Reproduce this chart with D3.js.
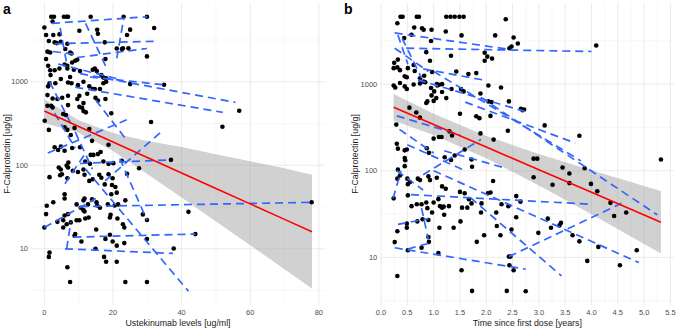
<!DOCTYPE html>
<html>
<head>
<meta charset="utf-8">
<script src="https://cdn.jsdelivr.net/npm/d3@7"></script>
<style>
  body { margin: 0; background: #fff; }
  text { font-family: "Liberation Sans", Arial, Helvetica, sans-serif; }
</style>
</head>
<body>
<div id="chart"></div>
<script>
// ---- panel a: ustekinumab level [ug/ml] vs F-calprotectin [ug/g]
const pointsA = [
  [2.0,6000],[2.8,6000],[5.7,6000],[6.5,6000],[6.9,6000],[13.5,6000],[0,4460],[2.4,5250],[10.2,4080],[15.4,4190],
  [15.6,3760],[0.5,3620],[2.6,3620],[4.4,3690],[1.3,3070],[3.0,2960],[3.6,2900],[4.8,3010],[6.7,2850],[6.1,2460],
  [7.5,2240],[17.6,2960],[21.1,2500],[22.6,2460],[0.9,2290],[1.7,2240],[7.9,2180],[9.0,1780],[9.6,1830],[5.9,1610],
  [6.7,1550],[8.1,1700],[0.5,1870],[1.1,1550],[1.7,1370],[3.0,1370],[4.4,1440],[6.7,1440],[8.6,1390],[10.4,1340],
  [14.1,1390],[14.7,1440],[15.3,1340],[16.6,1200],[17.2,1120],[18.0,1100],[7.5,1140],[1.8,1200],[1.5,960],[1.1,880],
  [3.2,960],[4.8,1080],[6.9,980],[7.9,960],[9.8,910],[11.4,1000],[13.1,880],[14.1,817],[14.7,817],[17.2,960],
  [18.0,1000],[16.2,817],[0.9,692],[2.4,631],[3.8,620],[5.2,643],[6.9,680],[9.6,620],[10.2,680],[12.5,718],
  [14.9,643],[15.6,597],[11.4,555],[17.8,620],[2.0,515],[6.9,525],[11.0,488],
  [23.1,6000],[29.9,6000],[32.0,4400],[25.0,4200],[24.1,3620],[24.5,2510],[22.9,2510],[29.9,2010],[17.8,1870],
  [34.9,921],[25.0,937],[56.8,450],[51.9,289],[31.1,329],[36.9,116],[24.1,79],[27.6,92],[77.9,36],[42.0,27.7],
  [28.7,25.8],[29.9,22.1],[44.0,15],[29.9,13.1],[37.7,10.1],[23.6,4],[29.9,4],[23.3,11.7],
  [0.9,516],[2.4,493],[10.2,500],[11.4,445],[12.1,430],[5.5,410],[6.3,400],[0.1,341],[1.3,265],[5.9,284],
  [6.7,265],[7.7,230],[8.8,280],[13.1,271],[19.5,420],[3.0,164],[4.0,152],[4.8,167],[5.9,149],[8.1,161],
  [10.4,164],[13.5,133],[14.3,133],[15.6,136],[16.4,144],[13.9,196],[18.7,176],[22.6,113],[4.2,94],[4.8,89],
  [4.6,76],[5.1,78],[6.9,94],[6.7,70],[8.3,86],[9.8,83],[11.4,89],[11.7,77],[13.1,65],[14.1,68],
  [16.0,77],[16.6,71],[19.7,58],[20.7,55],[17.6,59],[19.5,45],[21.1,47],[5.9,45],[5.9,40],[9.4,34],
  [11.4,38],[11.7,40],[12.7,34],[13.9,39],[15.2,36],[18.5,34],[21.5,34],[23.6,38],[0.5,26],
  [0.7,32.7],[10.6,31],[11.4,29],[11.7,28],[15.4,33],[16.2,31],[20.5,33],[6.9,26],[5.9,25],[5.5,22],
  [6.5,19.7],[7.7,20.7],[9.4,22],[10.2,22],[11.9,23],[12.9,23.7],[0,18],[5.5,18],[19.3,25.5],[19.1,23.7],
  [21.3,23],[23.3,18],[22.9,19.7],[15.1,17],[9.0,15],[8.8,14.3],[19.1,14.7],[17.8,13.1],[10.8,12.2],[19.9,12.2],
  [21.1,10.9],[14.9,10],[1.5,9],[1.3,8],[17.4,8],[18.0,7],[21.1,7],[6.7,6],[7.5,4],
  [1.5,72],[3.8,21],[2.6,36],[6.5,99],[7.0,108],[11.9,111],[13.3,104],[17.2,111],[18.7,104],[20.1,106],
  [18.7,78],[19.9,70]
];
// per-patient trend lines: [x1, y1, x2, y2]
const patientLinesA = [
  [2.2,5000,30,6000],[3.0,2850,32,3050],[9.5,1950,29.9,2500],[10.4,1250,55.7,566],[9,860,52,430],
  [13.3,1140,34.7,920],[21.1,1900,23.1,5600],[4.6,4400,6.7,1500],[1.5,1000,8,300],[4,1630,21.5,1080],
  [17.7,65,34.7,265],[10.4,105,36.9,116],[10.4,32,77.9,36],[8.5,13.8,44,15],[6,10,37.5,8.8],
  [12,90,42,3.1],[22,120,29.9,22],[0,18,15,40],[1,140,24,350],[6,60,12,140],
  [9,250,14,90],[12,5000,18,1500],[6.5,10,7.7,21],[2.5,2300,10,2100],[15,600,24,200],[3,420,9,160]
];
const fitXA = [0, 10, 20, 30, 40, 50, 60, 70, 78];
const fitA  = [446, 291, 190, 124, 81, 52.8, 34.5, 22.5, 16];
const hiA   = [618, 345, 244, 195, 165, 135, 112, 92, 77];
const loA   = [321, 245, 148, 78.5, 41, 21.2, 11.0, 5.7, 3.34];
const xTicksA = [0, 20, 40, 60, 80];
const xMinorA = [10, 30, 50, 70];

// ---- panel b: time since first dose [years] vs F-calprotectin [ug/g]
const pointsB = [
  [0.37,6000],[0.41,6000],[0.31,5050],[0.68,6000],[0.72,6000],[0.63,4500],[0.78,4420],[0.81,4240],[0.96,4240],[1.24,6000],
  [1.32,6000],[1.40,6000],[1.49,6000],[1.57,6000],[2.37,5600],[1.23,4050],[1.53,3650],[0.44,3400],[0.58,3710],[0.95,3150],
  [2.17,3650],[2.52,3450],[2.60,2950],[2.44,2600],[2.48,2720],[0.86,2340],[1.33,2130],[1.97,2300],[2.02,2080],[1.97,1860],
  [2.11,1970],[0.25,1760],[0.32,1920],[0.24,1530],[0.31,1560],[0.36,1450],[0.51,1530],[0.62,1660],[0.64,1420],[0.93,1860],
  [0.97,1380],[1.43,1400],[1.66,1310],[1.81,1340],[0.45,1230],[0.49,1200],[0.74,1170],[0.82,1250],[0.36,1030],[0.24,966],
  [0.27,915],[0.45,941],[0.49,880],[0.62,990],[0.74,1020],[0.81,1070],[0.84,1050],[1.07,966],[1.10,985],[1.16,1000],
  [0.95,901],[1.06,1000],[1.01,824],[1.16,810],[0.96,741],[1.05,690],[0.88,632],[0.86,605],[1.00,640],[1.24,690],
  [1.34,880],[1.52,880],[1.57,824],[1.89,780],[2.04,966],[2.28,915],[2.04,632],[2.10,620],[2.43,632],
  [2.66,520],[2.69,500],[2.72,510],[3.11,334],[3.77,254],[5.32,135],[2.90,138],[2.97,138],[2.90,84],[3.26,69],
  [3.45,109],[3.58,93],[3.58,72],[3.87,107],[3.99,70.5],[4.11,58],[4.36,42.6],[4.66,33],[4.43,30],[3.17,28],
  [2.99,19.2],[3.23,22],[3.39,23.4],[3.42,25],[3.64,18],[3.77,15.3],[4.13,13.2],[4.86,12.1],[3.92,9.1],[4.54,8.1],
  [2.75,4.06],[4.09,2790],
  [0.54,535],[0.67,470],[0.74,410],[1.50,455],[1.81,425],[1.87,405],[2.08,430],[0.29,341],[1.00,235],[1.10,245],
  [1.15,245],[1.35,255],[1.30,285],[1.59,176],[1.89,270],[2.14,229],[2.41,290],[0.30,205],[0.32,180],[0.45,172],
  [0.49,176],[0.87,182],[0.91,161],[1.21,143],[1.33,133],[1.40,150],[1.72,135],[1.73,111],[0.45,140],[0.46,132],
  [0.32,103],[0.36,88],[0.31,81],[0.45,113],[0.50,81],[0.51,70],[0.55,74],[0.70,81],[0.74,78],[0.90,86],
  [0.93,78],[1.06,83],[1.16,66],[1.23,62],[1.09,47],[1.00,43],[0.68,41],[0.51,52],[0.77,41],[0.86,43],
  [1.12,39],[1.19,38.5],[1.29,39],[1.50,57],[1.59,55],[1.67,47],[1.72,42],[1.91,42],[2.03,55],[2.08,56],
  [2.29,41],[2.42,39],[2.57,51],[2.65,44],
  [0.97,33],[1.20,31],[1.51,26],[1.38,22],[1.11,22],[0.90,27],[0.79,27.5],[0.69,26],[0.49,24.5],[0.49,22],
  [0.31,20],[0.26,15],[0.90,17.2],[0.91,15.1],[0.77,12.9],[0.51,12.1],[1.09,11.2],[1.53,7.1],[1.73,4.1],[2.39,4.1],
  [2.44,8.1],[2.52,7.1],[2.46,10.2],[2.43,10.2],[2.19,33],[2.57,29],[2.48,21],[2.27,18],[2.20,23],[1.96,18],
  [1.82,15.1],[1.64,37.5],[1.54,37.5],[1.90,33],[0.31,6.1],[1.16,37.5],[0.58,39],[0.88,37],[2.13,76],[0.24,48]
];
const patientLinesB = [
  [0.48,2600,4.0,2380],[0.26,3900,2.48,2500],[1.0,1400,3.8,130],[1.9,700,5.25,31],[0.57,53,4.0,41],
  [1.0,100,4.9,8.7],[1.7,49,3.43,6.1],[2.43,10.2,4.57,42],[0.26,12.9,2.75,7.3],[0.7,1120,2.73,484],
  [1.6,620,3.69,209],[0.32,3700,0.51,1700],[0.4,3400,0.77,1170],[0.26,2600,0.9,1400],[0.3,430,1.5,260],
  [0.35,300,1.0,160],[0.5,200,1.6,100],[0.8,90,1.9,230],[0.3,100,0.8,60],[1.2,170,2.3,110],
  [0.32,24,0.9,28],[0.77,37,0.9,16],[0.51,12.5,0.9,14.5],[0.23,48,0.38,100],[0.8,1500,2.0,1100]
];
const fitXB = [0.24, 1, 2, 3, 4, 5.32];
const fitB  = [540, 342, 187.5, 102.8, 56.4, 25.5];
const hiB   = [771, 454, 252, 156, 101, 58.5];
const loB   = [378, 258, 139, 67.6, 31.4, 11.1];
const xTicksB = d3.range(0, 5.51, 0.5);
const xMinorB = d3.range(0.25, 5.5, 0.5);

const yTicks = [10, 100, 1000];
const yMinor = [3.162, 31.62, 316.2, 3162];

const svg = d3.select("#chart").append("svg")
  .attr("width", 676)
  .attr("height", 329);

function drawPanel(o) {
  const top = 3, bottom = 305, w = 294;

  // ggplot-style 5% expansion (log space for y)
  const xs = o.points.map(d => d[0]);
  const xr = d3.extent(xs), xpad = (xr[1] - xr[0]) * 0.05;
  const allY = o.points.map(d => d[1])
    .concat(o.lines.flatMap(d => [d[1], d[3]]), o.lo, o.hi);
  const ly = d3.extent(allY).map(Math.log10), ypad = (ly[1] - ly[0]) * 0.05;

  const x = d3.scaleLinear().domain([xr[0] - xpad, xr[1] + xpad]).range([o.left, o.left + w]);
  const y = d3.scaleLog().domain([10 ** (ly[0] - ypad), 10 ** (ly[1] + ypad)]).range([bottom, top]);

  const g = svg.append("g");

  // grid
  g.selectAll(".gxm").data(o.xMinor).join("line")
    .attr("x1", d => x(d)).attr("x2", d => x(d)).attr("y1", top).attr("y2", bottom)
    .attr("stroke", "#efefef").attr("stroke-width", 0.5);
  g.selectAll(".gym").data(yMinor).join("line")
    .attr("x1", o.left).attr("x2", o.left + w).attr("y1", d => y(d)).attr("y2", d => y(d))
    .attr("stroke", "#efefef").attr("stroke-width", 0.5);
  g.selectAll(".gx").data(o.xTicks).join("line")
    .attr("x1", d => x(d)).attr("x2", d => x(d)).attr("y1", top).attr("y2", bottom)
    .attr("stroke", "#e8e8e8").attr("stroke-width", 0.9);
  g.selectAll(".gy").data(yTicks).join("line")
    .attr("x1", o.left).attr("x2", o.left + w).attr("y1", d => y(d)).attr("y2", d => y(d))
    .attr("stroke", "#e8e8e8").attr("stroke-width", 0.9);

  // tick labels
  g.selectAll(".tx").data(o.xTicks).join("text")
    .attr("x", d => x(d)).attr("y", 315)
    .attr("text-anchor", "middle")
    .style("font-size", "7.5px").style("fill", "#4d4d4d")
    .text(o.xFormat);
  g.selectAll(".ty").data(yTicks).join("text")
    .attr("x", o.left - 3).attr("y", d => y(d)).attr("dy", "0.35em")
    .attr("text-anchor", "end")
    .style("font-size", "7.5px").style("fill", "#4d4d4d")
    .text(d => d);

  // confidence band
  const band = d3.area()
    .x((d, i) => x(o.fitX[i]))
    .y0((d, i) => y(o.lo[i]))
    .y1((d, i) => y(o.hi[i]));
  g.append("path").datum(o.fitX)
    .attr("d", band)
    .attr("fill", "#999999").attr("fill-opacity", 0.45);

  // points
  g.selectAll(".pt").data(o.points).join("circle")
    .attr("cx", d => x(d[0])).attr("cy", d => y(d[1]))
    .attr("r", 2.3).attr("fill", "#000");

  // patient trend lines
  g.selectAll(".pl").data(o.lines).join("line")
    .attr("x1", d => x(d[0])).attr("y1", d => y(d[1]))
    .attr("x2", d => x(d[2])).attr("y2", d => y(d[3]))
    .attr("stroke", "#3366FF").attr("stroke-width", 1.7)
    .attr("stroke-dasharray", "8,5");

  // overall fit
  const fitLine = d3.line().x((d, i) => x(o.fitX[i])).y(d => y(d));
  g.append("path").datum(o.fit)
    .attr("d", fitLine)
    .attr("fill", "none").attr("stroke", "#ff0000").attr("stroke-width", 1.6);

  // axis titles
  g.append("text")
    .attr("x", o.left + w / 2).attr("y", 326)
    .attr("text-anchor", "middle")
    .style("font-size", "8.8px").style("fill", "#1a1a1a")
    .text(o.xTitle);
  g.append("text")
    .attr("transform", `translate(${o.yTitleX},${(top + bottom) / 2})rotate(-90)`)
    .attr("text-anchor", "middle")
    .style("font-size", "8.8px").style("fill", "#1a1a1a")
    .text("F-Calprotectin [ug/g]");

  // panel tag
  g.append("text")
    .attr("x", o.tagX).attr("y", 14)
    .style("font-size", "14px").style("font-weight", "bold").style("fill", "#000")
    .text(o.tag);
}

drawPanel({
  left: 31, points: pointsA, lines: patientLinesA,
  fitX: fitXA, fit: fitA, lo: loA, hi: hiA,
  xTicks: xTicksA, xMinor: xMinorA, xFormat: d => d,
  xTitle: "Ustekinumab levels [ug/ml]", yTitleX: 10, tag: "a", tagX: 3
});
drawPanel({
  left: 380.3, points: pointsB, lines: patientLinesB,
  fitX: fitXB, fit: fitB, lo: loB, hi: hiB,
  xTicks: xTicksB, xMinor: xMinorB, xFormat: d3.format(".1f"),
  xTitle: "Time since first dose [years]", yTitleX: 358, tag: "b", tagX: 344
});
</script>
</body>
</html>
